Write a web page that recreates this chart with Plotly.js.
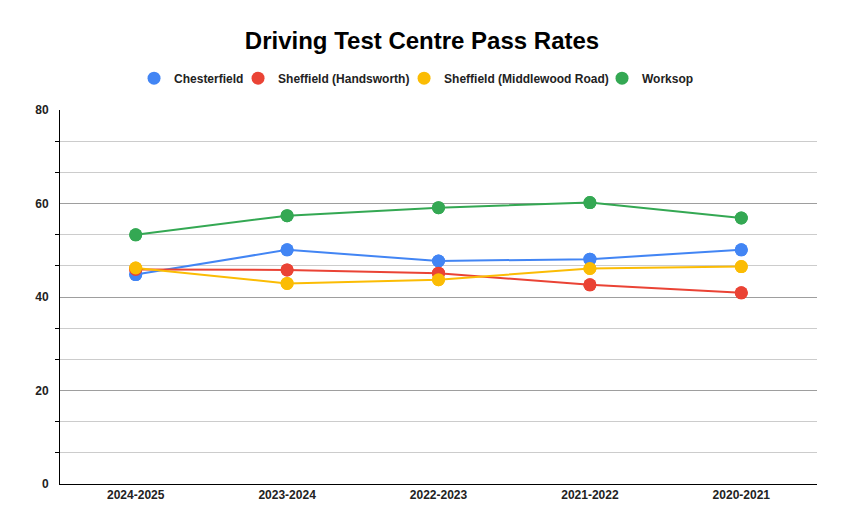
<!DOCTYPE html>
<html>
<head>
<meta charset="utf-8">
<script src="https://cdn.plot.ly/plotly-3.0.1.min.js"></script>
<style>html,body{margin:0;padding:0;background:#fff}#chart{width:844px;height:531px}</style>
</head>
<body>
<div id="chart"></div>
<script>
var years = ["2024-2025", "2023-2024", "2022-2023", "2021-2022", "2020-2021"];
var chesterfield = [44.8, 50.1, 47.7, 48.1, 50.1];
var handsworth = [45.9, 45.8, 45.1, 42.6, 40.9];
var middlewood = [46.2, 42.9, 43.7, 46.1, 46.5];
var worksop = [53.3, 57.4, 59.1, 60.2, 56.9];
var names = ["Chesterfield", "Sheffield (Handsworth)", "Sheffield (Middlewood Road)", "Worksop"];
var colors = ["#4285F4", "#EA4335", "#FBBC04", "#34A853"];
var series = [chesterfield, handsworth, middlewood, worksop];

var legendIds = ["legend", "legend2", "legend3", "legend4"];
var legendX = [0.0978, 0.2352, 0.4545, 0.7160];

var traces = [];
series.forEach(function (s, i) {
  traces.push({
    x: years, y: s, type: "scatter", mode: "lines+markers", name: names[i],
    line: {color: colors[i], width: 2},
    marker: {color: colors[i], size: 13},
    showlegend: false, hoverinfo: "x+y+name"
  });
});
series.forEach(function (s, i) {
  traces.push({
    x: years, y: s, type: "scatter", mode: "markers", name: names[i],
    marker: {color: colors[i], size: 13},
    showlegend: true, legend: legendIds[i], hoverinfo: "skip"
  });
});

var font = "Liberation Sans, Arial, sans-serif";
var layout = {
  width: 844, height: 531,
  margin: {l: 60, r: 27, t: 110, b: 47},
  paper_bgcolor: "#fff", plot_bgcolor: "#fff",
  font: {family: font, color: "#000"},
  title: {text: "<b>Driving Test Centre Pass Rates</b>", x: 0.5, xanchor: "center", y: 0.923, yanchor: "middle",
          font: {family: font, size: 24, color: "#000"}},
  showlegend: true,
  xaxis: {
    type: "category", range: [-0.5, 4.5], showgrid: false, zeroline: false,
    showline: true, linecolor: "#000", linewidth: 1, ticks: "",
    tickfont: {family: font, size: 12, color: "#222", weight: "bold"}
  },
  yaxis: {
    range: [0, 80], dtick: 20, tick0: 0, showgrid: true, gridcolor: "#9e9e9e", gridwidth: 1,
    zeroline: false, showline: true, linecolor: "#000", linewidth: 1, ticks: "",
    ticklabelstandoff: 8,
    tickfont: {family: font, size: 12, color: "#222", weight: "bold"},
    minor: {dtick: 20 / 3, tick0: 0, showgrid: true, gridcolor: "#cccccc", gridwidth: 1,
            ticks: "outside", ticklen: 4, tickcolor: "#000"}
  }
};
legendIds.forEach(function (id, i) {
  layout[id] = {orientation: "h", x: legendX[i], xanchor: "left", y: 1.085, yanchor: "middle",
    bgcolor: "rgba(0,0,0,0)", borderwidth: 0,
    font: {family: font, size: 12, color: "#222", weight: "bold"}, itemwidth: 30};
});
Plotly.newPlot("chart", traces, layout, {displayModeBar: false, staticPlot: true});
</script>
</body>
</html>
